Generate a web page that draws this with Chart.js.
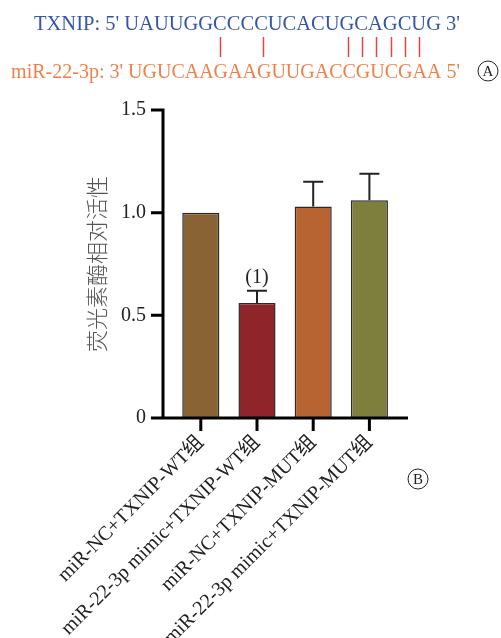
<!DOCTYPE html>
<html>
<head>
<meta charset="utf-8">
<script src="https://cdn.jsdelivr.net/npm/chart.js@4/dist/chart.umd.min.js"></script>
<style>
html,body{margin:0;padding:0;background:#fff;}
#wrap{position:relative;width:501px;height:638px;}
</style>
</head>
<body>
<div id="wrap"><canvas id="c" width="501" height="638"></canvas></div>
<script>
// ---- data ----
const categories = ['miR-NC+TXNIP-WT组', 'miR-22-3p mimic+TXNIP-WT组', 'miR-NC+TXNIP-MUT组', 'miR-22-3p mimic+TXNIP-MUT组'];
const values = [1.00, 0.56, 1.03, 1.06];
const errors = [0, 0.06, 0.12, 0.13];
const sigLabels = ['', '(1)', '', ''];
const yTicks = [0, 0.5, 1.0, 1.5];
const yTitle = '荧光素酶相对活性';
const topPrefix = 'TXNIP: 5\' ';
const topSeq = 'UAUUGGCCCCUCACUGCAGCUG';
const topSuffix = ' 3\'';
const botPrefix = 'miR-22-3p: 3\' ';
const botSeq = 'UGUCAAGAAGUUGACCGUCGAA';
const botSuffix = ' 5\'';
const pairIndex = [6, 9, 15, 16, 17, 18, 19, 20];

// ---- styles ----
const barColors = ['#8a6334', '#8f252b', '#b86432', '#7f7f3d'];
const SERIF = '"Liberation Serif", "Noto Sans CJK SC", serif';

const decor = {
  id: 'decor',
  afterDatasetsDraw(chart) {
    const ctx = chart.ctx;
    const ca = chart.chartArea;
    const xs = chart.scales.x, ys = chart.scales.y;
    const meta = chart.getDatasetMeta(0);
    ctx.save();
    // error bars
    ctx.strokeStyle = '#222';
    ctx.lineWidth = 2;
    meta.data.forEach((el, i) => {
      if (!errors[i]) return;
      const yt = ys.getPixelForValue(values[i] + errors[i]);
      ctx.beginPath();
      ctx.moveTo(el.x, el.y);
      ctx.lineTo(el.x, yt);
      ctx.moveTo(el.x - 10, yt);
      ctx.lineTo(el.x + 10, yt);
      ctx.stroke();
      if (sigLabels[i]) {
        ctx.fillStyle = '#222';
        ctx.font = '20px ' + SERIF;
        ctx.textAlign = 'center';
        ctx.textBaseline = 'alphabetic';
        ctx.fillText(sigLabels[i], el.x, yt - 8);
      }
    });
    // axes
    const axX = ca.left - 9.7;
    const y0 = ys.getPixelForValue(0);
    ctx.strokeStyle = '#000';
    ctx.lineWidth = 3;
    ctx.lineCap = 'butt';
    ctx.beginPath();
    ctx.moveTo(axX, ys.getPixelForValue(1.5) - 1.5);
    ctx.lineTo(axX, y0);
    ctx.moveTo(axX - 12, y0);
    ctx.lineTo(ca.right + 10.5, y0);
    yTicks.forEach(v => {
      const p = ys.getPixelForValue(v);
      ctx.moveTo(axX - 12, p);
      ctx.lineTo(axX, p);
    });
    categories.forEach((c, i) => {
      const p = xs.getPixelForValue(i);
      ctx.moveTo(p, y0);
      ctx.lineTo(p, y0 + 13);
    });
    ctx.stroke();

    // sequence text
    ctx.textBaseline = 'alphabetic';
    ctx.textAlign = 'left';
    const rightX = 460;
    const topFont = '20.5px ' + SERIF, botFont = '20px ' + SERIF;
    const topFull = topPrefix + topSeq + topSuffix;
    const botFull = botPrefix + botSeq + botSuffix;
    ctx.font = topFont;
    const topStart = rightX - ctx.measureText(topFull).width;
    ctx.fillStyle = '#3556a6';
    ctx.fillText(topFull, topStart, 30);
    const cx = (start, pre, seq, i) => start + ctx.measureText(pre + seq.slice(0, i)).width + ctx.measureText(seq[i]).width / 2;
    const topCenters = pairIndex.map(i => cx(topStart, topPrefix, topSeq, i));
    ctx.font = botFont;
    const botStart = rightX - ctx.measureText(botFull).width;
    ctx.fillStyle = '#f0804a';
    ctx.fillText(botFull, botStart, 78);
    const botCenters = pairIndex.map(i => cx(botStart, botPrefix, botSeq, i));
    ctx.strokeStyle = '#e8453c';
    ctx.lineWidth = 1.5;
    ctx.beginPath();
    pairIndex.forEach((i, k) => {
      const x = (topCenters[k] + botCenters[k]) / 2;
      ctx.moveTo(Math.round(x) + 0.5, 37);
      ctx.lineTo(Math.round(x) + 0.5, 57);
    });
    ctx.stroke();

    // circled panel letters
    const circled = (letter, x, y) => {
      ctx.strokeStyle = '#222';
      ctx.lineWidth = 1;
      ctx.beginPath();
      ctx.arc(x, y, 10, 0, Math.PI * 2);
      ctx.stroke();
      ctx.fillStyle = '#222';
      ctx.font = '15px ' + SERIF;
      ctx.textAlign = 'center';
      ctx.textBaseline = 'middle';
      ctx.fillText(letter, x, y + 1);
    };
    circled('A', 488, 71);
    circled('B', 418, 479);
    ctx.restore();
  }
};

new Chart(document.getElementById('c'), {
  type: 'bar',
  data: {
    labels: categories,
    datasets: [{
      data: values,
      backgroundColor: barColors,
      borderColor: '#2a2a2a',
      borderWidth: 1.5,
      barPercentage: 0.66,
      categoryPercentage: 1.0
    }]
  },
  options: {
    responsive: false,
    animation: false,
    devicePixelRatio: 1,
    layout: { padding: { top: 110, right: 103.5, bottom: 0, left: 0 } },
    plugins: { legend: { display: false }, tooltip: { enabled: false } },
    scales: {
      x: {
        grid: { display: false, drawTicks: false },
        border: { display: false },
        ticks: {
          maxRotation: 45, minRotation: 45,
          padding: 13,
          color: '#222',
          font: { family: SERIF, size: 20 }
        },
        afterFit(s) { s.height = 220; }
      },
      y: {
        min: 0, max: 1.5,
        afterBuildTicks(s) { s.ticks = yTicks.map(v => ({ value: v })); },
        grid: { display: false, drawTicks: false },
        border: { display: false },
        ticks: {
          padding: 26.7,
          color: '#222',
          font: { family: SERIF, size: 20 },
          callback: v => v === 0 ? '0' : v.toFixed(1)
        },
        title: {
          display: true,
          text: yTitle,
          color: '#555',
          font: { family: '"Noto Sans CJK SC", sans-serif', size: 22, weight: 300, lineHeight: 1 },
          padding: { top: 86, bottom: 0 }
        },
        afterFit(s) { s.width = 172.7; }
      }
    }
  },
  plugins: [decor]
});
</script>
</body>
</html>
